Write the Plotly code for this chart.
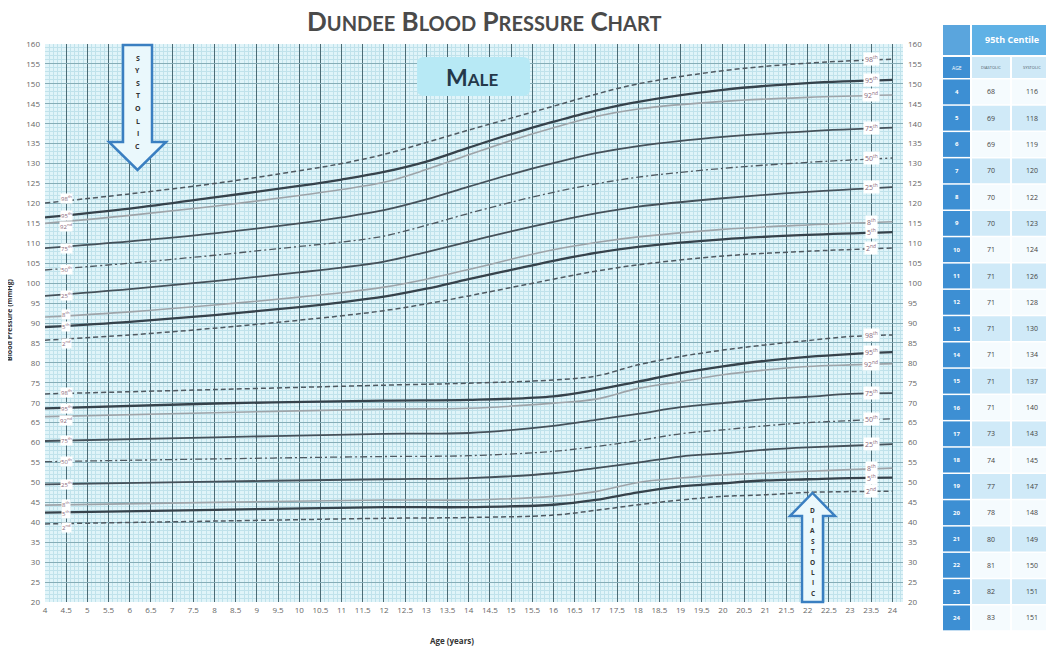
import plotly.graph_objects as go

# ---------------- data ----------------
table_ages = list(range(4, 25))
dia95 = [68, 69, 69, 70, 70, 70, 71, 71, 71, 71, 71, 71, 71, 73, 74, 77, 78, 80, 81, 82, 83]
sys95 = [116, 118, 119, 120, 122, 123, 124, 126, 128, 130, 134, 137, 140, 143, 145, 147, 148, 149, 150, 151, 151]

sys_ages = [4, 6, 8, 10, 11, 12, 13, 14, 15, 16, 17, 18, 20, 22, 24]
sys98 = [120.1, 122.4, 125.0, 128.2, 130.0, 132.3, 135.3, 138.4, 141.4, 144.4, 147.4, 150.0, 153.3, 155.2, 156.2]
sys95c = [116.5, 118.7, 121.5, 124.4, 126.0, 127.9, 130.5, 134.0, 137.4, 140.5, 143.3, 145.5, 148.5, 150.2, 151.0]
sys92 = [115.0, 117.0, 119.3, 122.0, 123.5, 125.3, 128.5, 132.2, 135.8, 139.0, 141.8, 143.7, 145.6, 146.6, 147.2]
sys75 = [108.8, 110.5, 112.5, 115.0, 116.5, 118.3, 121.0, 124.2, 127.3, 130.1, 132.6, 134.4, 136.7, 138.1, 139.0]
sys50 = [103.3, 105.0, 107.0, 109.2, 110.3, 111.8, 114.5, 117.5, 120.3, 122.8, 124.9, 126.6, 128.8, 130.3, 131.4]
sys25 = [96.8, 98.5, 100.5, 102.7, 103.9, 105.4, 107.8, 110.4, 113.0, 115.4, 117.5, 119.2, 121.3, 122.9, 124.1]
sys8 = [91.5, 92.8, 94.5, 96.5, 97.6, 99.0, 101.0, 103.4, 106.0, 108.4, 110.2, 111.6, 113.5, 114.6, 115.4]
sys5 = [89.0, 90.3, 92.0, 94.0, 95.2, 96.6, 98.6, 101.0, 103.3, 105.6, 107.6, 109.1, 111.0, 112.1, 112.8]
sys2 = [85.7, 87.0, 88.7, 90.7, 91.8, 93.1, 94.8, 96.8, 98.9, 101.0, 103.0, 104.6, 106.8, 108.0, 108.8]

dia_ages = [4, 8, 12, 14, 16, 17, 18, 19, 20, 21, 22, 23, 24]
dia98 = [72.2, 73.3, 74.4, 74.9, 75.7, 76.7, 79.5, 81.6, 83.2, 84.5, 85.6, 86.6, 87.0]
dia95c = [68.6, 69.8, 70.5, 70.7, 71.6, 73.2, 75.3, 77.4, 79.1, 80.5, 81.5, 82.2, 82.7]
dia92 = [66.5, 67.5, 68.4, 68.6, 69.9, 70.9, 73.6, 75.3, 77.0, 78.2, 79.1, 79.5, 79.8]
dia75 = [60.4, 61.3, 62.2, 62.4, 64.2, 65.7, 67.2, 68.9, 69.9, 70.9, 71.5, 72.2, 72.4]
dia50 = [55.2, 55.9, 56.5, 56.7, 57.8, 59.0, 60.5, 62.2, 63.2, 64.2, 65.0, 65.5, 66.0]
dia25 = [49.5, 50.2, 50.8, 51.1, 52.3, 53.6, 55.0, 56.5, 57.3, 58.2, 58.8, 59.2, 59.6]
dia8 = [44.3, 45.0, 45.6, 45.6, 46.5, 47.7, 50.0, 51.1, 51.9, 52.3, 52.8, 53.2, 53.6]
dia5 = [42.4, 43.1, 43.8, 43.8, 44.4, 45.6, 47.5, 49.0, 49.8, 50.5, 50.8, 51.1, 51.2]
dia2 = [39.6, 40.3, 41.0, 41.2, 41.8, 43.0, 44.4, 45.6, 46.5, 46.9, 47.5, 47.7, 47.8]

centile_names = ["98<sup>th</sup>", "95<sup>th</sup>", "92<sup>nd</sup>", "75<sup>th</sup>",
                 "50<sup>th</sup>", "25<sup>th</sup>", "8<sup>th</sup>", "5<sup>th</sup>", "2<sup>nd</sup>"]
x_ticks = [4 + 0.5 * i for i in range(41)]
y_ticks = list(range(20, 161, 5))

# ---------------- geometry helpers (decoration only) ----------------
OFF = 8  # page body margin
W, H = 1054 - OFF, 650 - OFF
L, R, T, B = 45, 903, 44, 602   # plot area in reference-image pixels


def px(x):
    return (x - L) / (R - L)


def py(y):
    return (B - y) / (B - T)


DARK = "#36424b"
MID = "#45515a"
GREY = "#9ea4a9"
DASHC = "#4f5961"
styles = [
    dict(color=DASHC, width=1.5, dash="5px,3px"),
    dict(color=DARK, width=2.3, dash="solid"),
    dict(color=GREY, width=1.6, dash="solid"),
    dict(color=MID, width=1.8, dash="solid"),
    dict(color=DASHC, width=1.3, dash="7px,3px,2px,3px"),
    dict(color=MID, width=1.8, dash="solid"),
    dict(color=GREY, width=1.6, dash="solid"),
    dict(color=DARK, width=2.3, dash="solid"),
    dict(color=DASHC, width=1.5, dash="5px,3px"),
]

systolic = [(sys_ages, sys98), (sys_ages, sys95c), (sys_ages, sys92), (sys_ages, sys75),
            (sys_ages, sys50), (sys_ages, sys25), (sys_ages, sys8), (sys_ages, sys5), (sys_ages, sys2)]
diastolic = [(dia_ages, dia98), (dia_ages, dia95c), (dia_ages, dia92), (dia_ages, dia75),
             (dia_ages, dia50), (dia_ages, dia25), (dia_ages, dia8), (dia_ages, dia5), (dia_ages, dia2)]

fig = go.Figure()
for group in (systolic, diastolic):
    for (xs, ys), st in zip(group, styles):
        fig.add_trace(go.Scatter(x=xs, y=ys, mode="lines",
                                 line=dict(color=st["color"], width=st["width"], dash=st["dash"],
                                           shape="spline", smoothing=1.0),
                                 hoverinfo="skip", showlegend=False))
# invisible trace for right axis
fig.add_trace(go.Scatter(x=table_ages, y=sys95, yaxis="y2", mode="lines", opacity=0,
                         hoverinfo="skip", showlegend=False))

annotations = []
shapes = []


def ann(**kw):
    kw.setdefault("showarrow", False)
    kw.setdefault("xanchor", "center")
    kw.setdefault("yanchor", "middle")
    annotations.append(kw)


# centile labels
left_shift = [5, 2, -3, 0, 0, 0, 3, 0, -3]
left_shift_d = [1, 0, -4, 0, 0, 0, 1, -1, -4]
LABC = "#8a6a7c"
for group, lshift in ((systolic, left_shift), (diastolic, left_shift_d)):
    for (xs, ys), name, ls in zip(group, centile_names, lshift):
        ann(x=4.5, y=ys[0], xref="x", yref="y", text=name, yshift=ls,
            font=dict(size=6, color=LABC, family="Open Sans"), bgcolor="white", borderpad=0)
        ann(x=23.5, y=ys[-1], xref="x", yref="y", text=name,
            font=dict(size=7, color=LABC, family="Open Sans"), bgcolor="white", borderpad=1)

# title
SC = "<span style='font-size:20px'>"
ann(x=px(484), y=py(21), xref="paper", yref="paper",
    text=f"<b>D{SC}UNDEE</span> B{SC}LOOD</span> P{SC}RESSURE</span> C{SC}HART</span></b>",
    font=dict(size=26, color="#4a4a4a", family="Lato"))


def rrect(x0, y0, x1, y1, r):
    X0, X1 = px(x0), px(x1)
    Y0, Y1 = py(y0), py(y1)
    rx = r / (R - L)
    ry = r / (B - T)
    return (f"M {X0+rx},{Y0} L {X1-rx},{Y0} Q {X1},{Y0} {X1},{Y0-ry} L {X1},{Y1+ry} "
            f"Q {X1},{Y1} {X1-rx},{Y1} L {X0+rx},{Y1} Q {X0},{Y1} {X0},{Y1+ry} "
            f"L {X0},{Y0-ry} Q {X0},{Y0} {X0+rx},{Y0} Z")


shapes.append(dict(type="path", xref="paper", yref="paper", path=rrect(417, 57, 530, 96, 7),
                   fillcolor="#b7e9f5", line=dict(width=0), layer="above"))
ann(x=px(472), y=py(77), xref="paper", yref="paper",
    text="<b>M<span style='font-size:17px'>ALE</span></b>",
    font=dict(size=23, color="#24384a", family="Lato"))


def poly(points):
    return "M " + " L ".join(f"{px(a)},{py(b)}" for a, b in points) + " Z"


ARROW = "#3a7fc1"
shapes.append(dict(type="path", xref="paper", yref="paper", layer="above",
                   path=poly([(123, 45), (152, 45), (152, 142), (166, 142), (137.5, 170), (109, 142), (123, 142)]),
                   fillcolor="#eaf8fc", line=dict(color=ARROW, width=2.5)))
shapes.append(dict(type="path", xref="paper", yref="paper", layer="above",
                   path=poly([(802, 602), (802, 516), (790, 516), (812.5, 493), (835, 516), (823, 516), (823, 602)]),
                   fillcolor="#eaf8fc", line=dict(color=ARROW, width=2.5)))
for i, ch in enumerate("SYSTOLIC"):
    ann(x=px(137.5), y=py(58 + 12.6 * i), xref="paper", yref="paper",
        text=f"<b>{ch}</b>", font=dict(size=7, color="#333", family="Open Sans"))
for i, ch in enumerate("DIASTOLIC"):
    ann(x=px(812.5), y=py(510 + 10.4 * i), xref="paper", yref="paper",
        text=f"<b>{ch}</b>", font=dict(size=6.5, color="#333", family="Open Sans"))

# axis titles
ann(x=px(9), y=py(320), xref="paper", yref="paper", textangle=-90,
    text="<b>Blood Pressure (mmHg)</b>", font=dict(size=7, color="#333", family="Open Sans"))
ann(x=px(452), y=py(640), xref="paper", yref="paper",
    text="<b>Age (years)</b>", font=dict(size=8, color="#333", family="Open Sans"))

# ---------------- table ----------------
cA = (943, 970)
cD = (972, 1010)
cS = (1012, 1052)


def rect(x0, x1, y0, y1, color):
    shapes.append(dict(type="rect", xref="paper", yref="paper", x0=px(x0), x1=px(x1),
                       y0=py(y1), y1=py(y0), fillcolor=color, line=dict(width=0), layer="above"))


def txt(x, y, s, size, color, bold=False):
    ann(x=px(x), y=py(y), xref="paper", yref="paper",
        text=f"<b>{s}</b>" if bold else s, font=dict(size=size, color=color, family="Open Sans"))


rect(cA[0], cA[1], 25, 55, "#5aa5dd")
rect(cD[0], cS[1], 25, 55, "#5fb1e5")
txt((cD[0] + cS[1]) / 2, 40, "95th Centile", 9, "white", bold=True)
rect(cA[0], cA[1], 57, 78, "#3d8fd3")
rect(cD[0], cD[1], 57, 78, "#cfe9f7")
rect(cS[0], cS[1], 57, 78, "#cfe9f7")
txt((cA[0] + cA[1]) / 2, 67.5, "AGE", 5, "white")
txt((cD[0] + cD[1]) / 2, 67.5, "DIASTOLIC", 4, "#4a5a66")
txt((cS[0] + cS[1]) / 2, 67.5, "SYSTOLIC", 4, "#4a5a66")

ROW_H = 26.3
for i, (a, d, s) in enumerate(zip(table_ages, dia95, sys95)):
    y0 = 79.5 + i * ROW_H
    y1 = y0 + ROW_H - 1.5
    yc = (y0 + y1) / 2
    rect(cA[0], cA[1], y0, y1, "#3d8fd3")
    fill = "#d0eaf8" if i % 2 == 1 else "#f5fbfe"
    rect(cD[0], cD[1], y0, y1, fill)
    rect(cS[0], cS[1], y0, y1, fill)
    txt((cA[0] + cA[1]) / 2, yc, str(a), 6, "white", bold=True)
    txt((cD[0] + cD[1]) / 2, yc, str(d), 7, "#444")
    txt((cS[0] + cS[1]) / 2, yc, str(s), 7, "#444")

tickfont = dict(size=8, color="#666", family="Open Sans")
fig.update_layout(
    width=W, height=H,
    margin=dict(l=L - OFF, r=1054 - R, t=T - OFF, b=650 - B),
    paper_bgcolor="white",
    plot_bgcolor="#e0f4f9",
    showlegend=False,
    xaxis=dict(range=[4, 24.25], tickmode="array", tickvals=x_ticks,
               ticktext=[f"{v:g}" for v in x_ticks], tickfont=tickfont,
               showgrid=True, gridcolor="#4b6b75", gridwidth=1.4, zeroline=False, showline=False,
               minor=dict(dtick=0.1, tick0=4, showgrid=True, gridcolor="#c0e2eb", gridwidth=0.6),
               ticklabelstandoff=2),
    yaxis=dict(range=[20, 160], tickmode="array", tickvals=y_ticks, tickfont=tickfont,
               showgrid=True, gridcolor="#86adb7", gridwidth=0.9, zeroline=False, showline=False,
               minor=dict(dtick=1, tick0=20, showgrid=True, gridcolor="#c0e2eb", gridwidth=0.6),
               ticklabelstandoff=4),
    yaxis2=dict(range=[20, 160], overlaying="y", side="right", tickmode="array", tickvals=y_ticks,
                tickfont=tickfont, showgrid=False, zeroline=False, showline=False, ticklabelstandoff=4),
    annotations=annotations,
    shapes=shapes,
)

fig.write_html("out.html")
